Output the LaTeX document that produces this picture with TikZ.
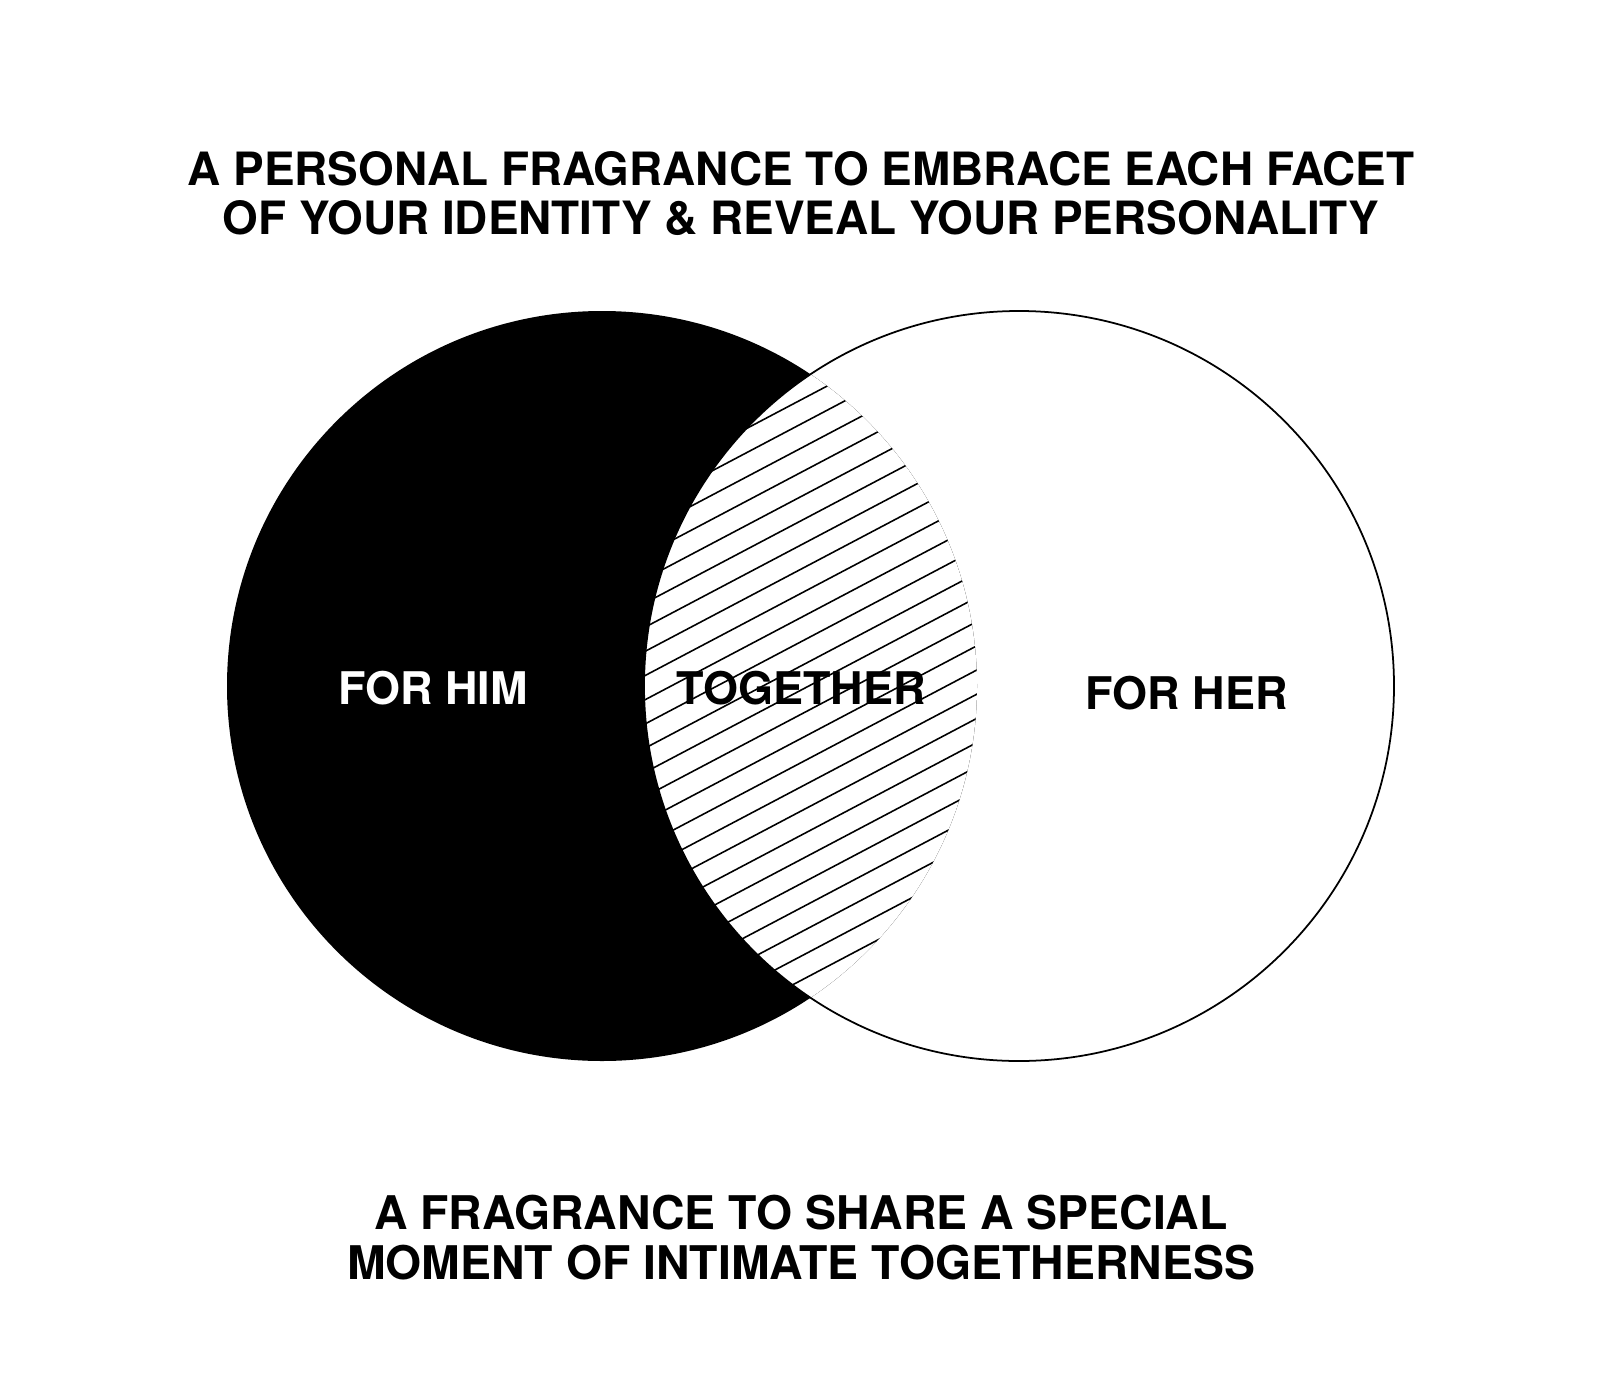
\documentclass[tikz,border=0pt]{standalone}
\usepackage{fontspec}
\setmainfont{TeX Gyre Heros}
\usetikzlibrary{calc}
\tikzset{
    caption/.style={font=\fontsize{13.06}{13.9}\selectfont\bfseries, align=center, inner sep=0pt},
    captionlow/.style={font=\fontsize{13.2}{14.2}\selectfont\bfseries, align=center, inner sep=0pt},
    label/.style={font=\fontsize{12.8}{15}\selectfont\bfseries, inner sep=0pt},
    hatch/.style={line width=0.45pt}
}
\begin{document}
\begin{tikzpicture}
            \useasboundingbox [fill=white] (0,0) rectangle (16.02,-13.74);

            \coordinate (L) at (6.02,-6.86);
            \coordinate (R) at (10.19,-6.86);
            \coordinate (M) at ($(L)!0.5!(R)$);

            % him
            \fill [black] (L) circle (3.75);

            % together
            \begin{scope}
                \clip (L) circle (3.75);
                \clip (R) circle (3.75);
                \fill [white] (M) circle (4);
                \begin{scope}[shift={(M)}, rotate=27.8]
                    \foreach \k in {-20,...,20}
                        {
                            \draw [hatch] (-5,\k*0.214+0.008) -- (5,\k*0.214+0.008);
                        }
                \end{scope}
            \end{scope}

            % her
            \draw [line width=0.5pt] (R) circle (3.75);

            \node (top) at (8.01,-1.931) [caption] {A PERSONAL FRAGRANCE TO EMBRACE EACH FACET\\OF YOUR IDENTITY \& REVEAL YOUR PERSONALITY};
            \node (him) at ($(L) + (-1.69,-0.025)$) [label, white] {FOR HIM};
            \node (tog) at ($(M) + (-0.095,-0.016)$) [label] {TOGETHER};
            \node (her) at ($(R) + (1.677,-0.067)$) [label] {FOR HER};
            \node (bottom) at (8.01,-12.378) [captionlow] {A FRAGRANCE TO SHARE A SPECIAL\\MOMENT OF INTIMATE TOGETHERNESS};

        \end{tikzpicture}
\end{document}
